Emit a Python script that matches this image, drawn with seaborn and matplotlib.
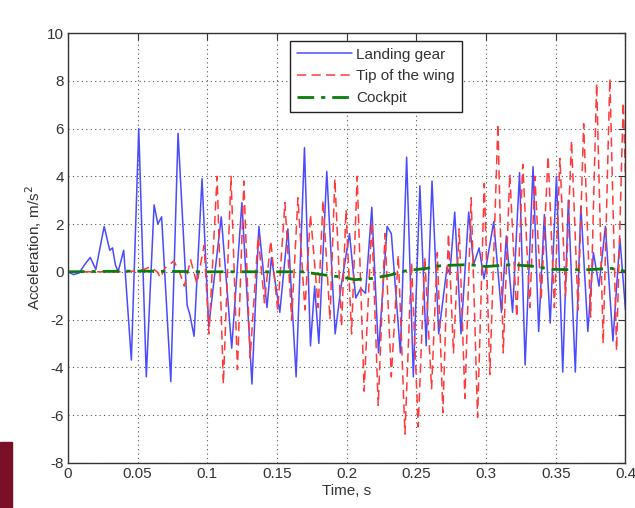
import numpy as np
import pandas as pd
import matplotlib
matplotlib.use("Agg")
import matplotlib.pyplot as plt
import seaborn as sns
from matplotlib.patches import Rectangle

# Landing gear (peaks / troughs)
gear_t = [0.000, 0.004, 0.008, 0.012, 0.016, 0.020, 0.023, 0.026, 0.030, 0.032,
          0.034, 0.036, 0.040, 0.0455, 0.0508, 0.0562, 0.0618, 0.0645, 0.0672, 0.0738,
          0.0790, 0.0855, 0.0875, 0.0905, 0.0962, 0.1010, 0.1100, 0.1175, 0.1248, 0.1320,
          0.1370, 0.1428, 0.1460, 0.1520, 0.1578, 0.1637, 0.1697, 0.1740, 0.1770, 0.1800,
          0.1857, 0.1917, 0.1960, 0.2020, 0.2065, 0.2100, 0.2135, 0.2180, 0.2228, 0.2290,
          0.2320, 0.2385, 0.2430, 0.2478, 0.2525, 0.2570, 0.2612, 0.2660, 0.2720, 0.2740,
          0.2775, 0.2820, 0.2875, 0.2910, 0.2950, 0.2985, 0.3055, 0.3110, 0.3145, 0.3190,
          0.3240, 0.3280, 0.3337, 0.3377, 0.3418, 0.3460, 0.3505, 0.3550, 0.3590, 0.3640,
          0.3680, 0.3730, 0.3770, 0.3810, 0.3856, 0.3910, 0.3960, 0.4000]
gear_a = [0.0, -0.12, -0.05, 0.3, 0.6, 0.1, 1.0, 1.9, 0.9, 1.0,
          0.3, 0.0, 0.9, -3.7, 6.0, -4.4, 2.8, 2.0, 2.3, -4.6,
          5.8, -1.4, -1.8, -2.7, 3.9, -2.3, 2.3, -3.2, 2.9, -4.7,
          1.9, -1.5, 0.6, -1.7, 1.8, -4.4, 5.2, -3.1, -0.6, -3.0,
          4.2, -2.6, -0.6, 1.6, -1.1, -0.7, -0.9, 2.7, -3.4, 1.9,
          1.6, -3.4, 4.8, -4.4, 3.6, -3.1, 3.8, -2.6, 0.2, -0.1,
          2.5, -2.6, 2.5, 0.3, 1.0, -0.3, 2.1, -1.7, 1.5, -1.7,
          4.15, -3.9, 4.4, -2.5, 2.4, -2.15, 4.0, -4.2, 3.0, -4.2,
          2.75, -2.5, 0.8, -0.6, 1.9, -2.9, 1.4, -1.6]

# Tip of the wing
wing_t = [0.000, 0.040, 0.052, 0.059, 0.064, 0.0665, 0.0695, 0.0760, 0.0800, 0.0835,
          0.0880, 0.0925, 0.0977, 0.1012, 0.1070, 0.1115, 0.1170, 0.1216, 0.1262, 0.1307,
          0.1365, 0.1410, 0.1455, 0.1505, 0.1557, 0.1605, 0.1650, 0.1700, 0.1740, 0.1796,
          0.1830, 0.1880, 0.1915, 0.1963, 0.1995, 0.2035, 0.2075, 0.2125, 0.2180, 0.2226,
          0.2275, 0.2320, 0.2370, 0.2418, 0.2465, 0.2513, 0.2560, 0.2609, 0.2650, 0.2690,
          0.2730, 0.2766, 0.2807, 0.2848, 0.2893, 0.2939, 0.2987, 0.3027, 0.3085, 0.3123,
          0.3170, 0.3220, 0.3263, 0.3314, 0.3350, 0.3395, 0.3445, 0.3490, 0.3530, 0.3570,
          0.3613, 0.3660, 0.3700, 0.3750, 0.3793, 0.3840, 0.3888, 0.3936, 0.3984, 0.4000]
wing_a = [0.0, 0.0, 0.05, 0.2, 0.0, -0.25, 0.15, 0.45, 0.0, -0.6,
          0.5, -0.5, 1.1, -2.6, 4.0, -4.7, 4.0, -4.1, 3.8, -3.6,
          1.5, -1.3, 1.3, -1.6, 2.9, -2.0, 3.1, -1.6, 2.4, -1.5,
          3.0, -2.0, 3.9, -2.3, 2.6, -2.6, 4.0, -5.0, 2.1, -5.6,
          1.6, -4.4, 0.7, -6.8, 0.4, -6.5, 0.6, -4.9, 0.8, -5.9,
          1.6, -3.4, 1.8, -5.3, 3.1, -6.1, 3.7, -4.3, 6.2, -3.4,
          4.1, -1.9, 4.5, -1.5, 4.0, -1.2, 4.85, -1.5, 4.75, -1.0,
          5.5, -1.6, 6.2, -1.9, 7.9, -3.0, 8.1, -3.3, 7.1, 4.0]

# Cockpit
cockpit_t = [0.000, 0.050, 0.100, 0.150, 0.168, 0.185, 0.196, 0.206, 0.218, 0.231,
             0.243, 0.257, 0.268, 0.2875, 0.300, 0.318, 0.3325, 0.348, 0.370, 0.390, 0.400]
cockpit_a = [0.0, 0.03, 0.0, 0.0, 0.0, -0.14, -0.22, -0.33, -0.28, -0.14,
             0.05, 0.14, 0.26, 0.3, 0.22, 0.3, 0.24, 0.1, 0.08, 0.14, 0.02]

x_ticks = [0, 0.05, 0.1, 0.15, 0.2, 0.25, 0.3, 0.35, 0.4]
x_labels = ["0", "0.05", "0.1", "0.15", "0.2", "0.25", "0.3", "0.35", "0.4"]
y_ticks = list(range(-8, 11, 2))

sns.set_style("white")
plt.rcParams['font.family'] = ['Liberation Sans', 'DejaVu Sans']
plt.rcParams['axes.unicode_minus'] = False

fig = plt.figure(figsize=(6.35, 5.08), dpi=100)
ax = fig.add_axes([0.107, 0.089, 0.878, 0.846])

gear = pd.DataFrame({'t': gear_t, 'a': gear_a})
wing = pd.DataFrame({'t': wing_t, 'a': wing_a})
cockpit = pd.DataFrame({'t': cockpit_t, 'a': cockpit_a})

sns.lineplot(data=gear, x='t', y='a', ax=ax, color='#4a4aff', lw=1.1,
             sort=False, estimator=None, label='Landing gear')
sns.lineplot(data=wing, x='t', y='a', ax=ax, color='#ff3a3a', lw=1.1,
             sort=False, estimator=None, label='Tip of the wing')
ax.lines[-1].set_dashes([6, 3.5])
sns.lineplot(data=cockpit, x='t', y='a', ax=ax, color='#0a7d0a', lw=2.0,
             sort=False, estimator=None, label='Cockpit')
ax.lines[-1].set_dashes([6, 2.5, 1.5, 2.5])

ax.set_xlim(0, 0.4)
ax.set_ylim(-8, 10)
ax.set_xticks(x_ticks)
ax.set_xticklabels(x_labels)
ax.set_yticks(y_ticks)
ax.grid(True, linestyle=(0, (1, 3)), color='#555555', lw=0.8)
ax.tick_params(direction='in', length=5, width=0.8, top=True, right=True,
               labelsize=11, colors='#333333', pad=3)
for s in ax.spines.values():
    s.set_color('#333333')
    s.set_linewidth(1.0)

ax.set_xlabel('Time, s', fontsize=11, color='#333333', labelpad=2)
ax.set_ylabel('Acceleration, m/s$^2$', fontsize=11, color='#333333', labelpad=2)

leg = ax.legend(loc='upper left', bbox_to_anchor=(0.398, 0.982), fontsize=11,
                frameon=True, fancybox=False, handlelength=3.6, borderpad=0.45,
                labelspacing=0.5, handletextpad=0.3, borderaxespad=0)
leg.get_frame().set_edgecolor('#222222')
leg.get_frame().set_linewidth(1.0)
leg.get_frame().set_alpha(1.0)
for txt in leg.get_texts():
    txt.set_color('#333333')

# maroon slide edge at bottom left
fig.patches.append(Rectangle((0, 0), 12 / 635, 66 / 508, transform=fig.transFigure,
                             color='#7a1028', zorder=0))

fig.savefig('out.png', dpi=100)
